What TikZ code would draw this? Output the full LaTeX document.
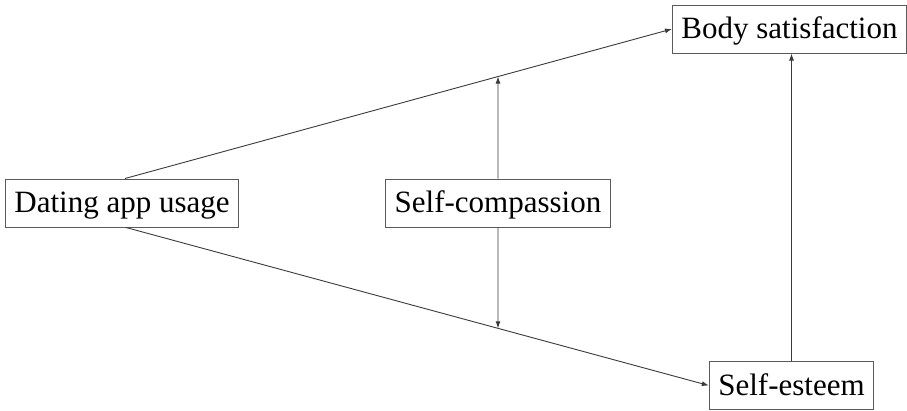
\documentclass[tikz,border=0pt]{standalone}
\usepackage{fontspec}
\setmainfont{Liberation Serif}
\usetikzlibrary{arrows.meta}
\definecolor{edge}{HTML}{3A3A3A}
\definecolor{frame}{HTML}{5A5A5A}
\begin{document}
\begin{tikzpicture}[x=1pt,y=-1pt,
  varbox/.style={draw=frame,line width=1pt,fill=white,inner xsep=9pt,
    inner ysep=0pt,minimum height=48pt,text height=24pt,text depth=5pt,
    font=\fontsize{31}{36}\selectfont},
  path/.style={draw=edge,line width=0.9pt,-{Latex[length=7pt,width=5pt]}},
  both/.style={draw=edge,line width=0.9pt,{Latex[length=7pt,width=5pt]}-{Latex[length=7pt,width=5pt]}}]
  \useasboundingbox (0,0) rectangle (907,410);

  % variables
  \node[varbox] (dating) at (122,203) {Dating app usage};
  \node[varbox] (body)   at (789.5,29) {Body satisfaction};
  \node[varbox] (comp)   at (498,203) {Self-compassion};
  \node[varbox] (esteem) at (791.5,385.5) {Self-esteem};

  % start points on the predictor box
  \coordinate (dtop) at ([xshift=3pt]dating.north);
  \coordinate (dbot) at ([xshift=4pt]dating.south);

  % direct and indirect paths
  \draw[path] (dtop) -- (body.west);
  \draw[path] (dbot) -- (esteem.west);
  \draw[path] (esteem.north) -- (esteem.north |- body.south);

  % moderation by self-compassion
  \coordinate (mtop) at (intersection of dtop--body.west and comp.north--comp.center);
  \coordinate (mbot) at (intersection of dbot--esteem.west and comp.south--comp.center);
  \draw[path] (comp.north) -- (mtop);
  \draw[path] (comp.south) -- (mbot);
\end{tikzpicture}
\end{document}
